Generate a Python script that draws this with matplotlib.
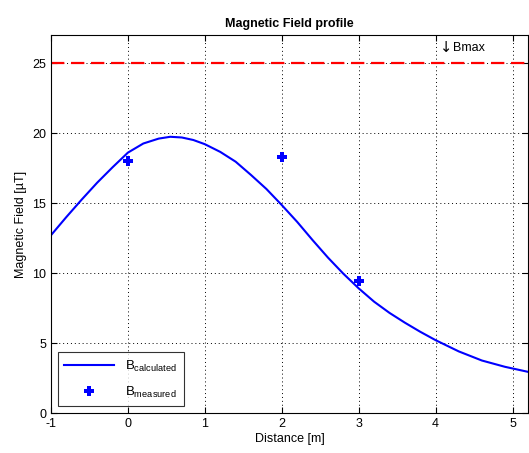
import matplotlib
matplotlib.use("Agg")
import matplotlib.pyplot as plt

# Calculated field profile
x_calc = [-1.0, -0.8, -0.6, -0.4, -0.2, 0.0, 0.2, 0.4, 0.55, 0.7, 0.85, 1.0, 1.2, 1.4,
          1.6, 1.8, 2.0, 2.2, 2.4, 2.6, 2.8, 3.0, 3.2, 3.4, 3.6, 3.8, 4.0, 4.3, 4.6, 4.9, 5.2]
y_calc = [12.7, 14.0, 15.25, 16.45, 17.55, 18.6, 19.25, 19.6, 19.73, 19.68, 19.5, 19.2, 18.65, 17.95,
          17.0, 16.0, 14.85, 13.65, 12.35, 11.1, 9.95, 8.9, 7.95, 7.15, 6.45, 5.8, 5.2, 4.4, 3.75, 3.3, 2.94]

# Measured points
x_meas = [0, 2, 3]
y_meas = [18.0, 18.3, 9.4]

b_max = 25
xticks = [-1, 0, 1, 2, 3, 4, 5]
yticks = [0, 5, 10, 15, 20, 25]

plt.rcParams['font.family'] = ['Liberation Sans', 'DejaVu Sans']
plt.rcParams['font.size'] = 8
plt.rcParams['axes.unicode_minus'] = False
plt.rcParams['mathtext.fontset'] = 'custom'
plt.rcParams['mathtext.rm'] = 'Liberation Sans'
plt.rcParams['mathtext.it'] = 'Liberation Sans:italic'

fig = plt.figure(figsize=(5.29, 4.53), dpi=100)
ax = fig.add_axes([51/529, 1-413/453, (528-51)/529, (413-35)/453])

ax.axhline(b_max, color='red', linestyle=(0, (6, 3)), linewidth=1.6)
ln, = ax.plot(x_calc, y_calc, color='blue', linewidth=1.5, label=r'B$_{\rm calculated}$')
pts, = ax.plot(x_meas, y_meas, linestyle='none', marker='P', markersize=7,
               markeredgewidth=0, color='blue', label=r'B$_{\rm measured}$')
ax.text(4.06, 26.1, '\u2193', fontsize=10.5, va='center', ha='left', family=['DejaVu Sans'])
ax.text(4.22, 26.05, 'Bmax', fontsize=9, va='center', ha='left')

ax.set_xlim(-1, 5.2)
ax.set_ylim(0, 27)
ax.set_xticks(xticks)
ax.set_yticks(yticks)
ax.grid(True, color='black', linestyle=(0, (1, 3)), linewidth=0.7)
ax.tick_params(direction='in', top=True, right=True, length=4, labelsize=9)
for s in ax.spines.values():
    s.set_linewidth(0.8)

ax.set_title('Magnetic Field profile', fontweight='bold', fontsize=9, pad=6)
ax.set_xlabel('Distance [m]', fontsize=9, labelpad=2)
ax.set_ylabel('Magnetic Field [\u00b5T]', fontsize=9, labelpad=4)

leg = ax.legend(loc='lower left', fancybox=False, edgecolor='black', fontsize=9.5,
                borderaxespad=0.5, handlelength=3.8, labelspacing=0.8, handletextpad=0.8,
                borderpad=0.5)
leg.get_frame().set_linewidth(0.8)

fig.savefig('out.png', dpi=100)
